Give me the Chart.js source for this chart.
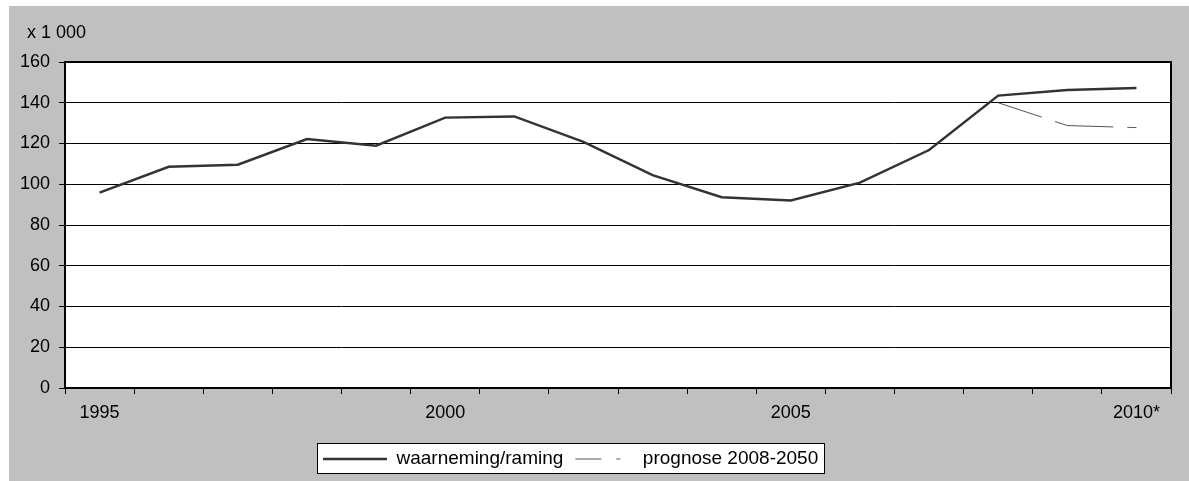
<!DOCTYPE html>
<html>
<head>
<meta charset="utf-8">
<script src="https://cdn.jsdelivr.net/npm/chart.js@4.4.1/dist/chart.umd.min.js"></script>
<style>
  html, body { margin: 0; padding: 0; background: #fff; }
  #wrap { position: absolute; left: 9px; top: 6px; width: 1180px; height: 475px; background: #c0c0c0; }
</style>
</head>
<body>
<div id="wrap"><canvas id="line-chart"></canvas></div>
<script>
const years = ['1995', '1996', '1997', '1998', '1999', '2000', '2001', '2002',
  '2003', '2004', '2005', '2006', '2007', '2008', '2009', '2010*'];
const observed = [95.9, 108.6, 109.6, 122.2, 118.9, 132.7, 133.3, 120.8,
  104.5, 93.6, 92.0, 100.8, 116.8, 143.5, 146.3, 147.3];
const forecast = [null, null, null, null, null, null, null, null,
  null, null, null, null, null, 140.0, 128.8, 127.8];
const yTicks = [0, 20, 40, 60, 80, 100, 120, 140, 160];
const labelledYears = ['1995', '2000', '2005', '2010*'];

const FONT = { family: "'Liberation Sans', Arial, sans-serif", size: 18, weight: 'normal' };
const LEGEND_FONT = { family: "'Liberation Sans', Arial, sans-serif", size: 19, weight: 'normal' };
const LEGEND_PAD = 6;

// white plot area, black frame, boxed legend
const plotFrame = {
  id: 'plotFrame',
  afterLayout(chart) {
    const t = chart.titleBlock;
    t.left += 18;
    t.right += 18;
    const lg = chart.legend;
    const rowStart = (lg.left + LEGEND_PAD + lg.right - lg.lineWidths[0]) / 2;
    const dx = 314 - rowStart;
    lg.left += dx;
    lg.right += dx;
    const dy = (453 - LEGEND_FONT.size / 2 - LEGEND_PAD) - lg.top;
    lg.top += dy;
    lg.bottom += dy;
  },
  beforeDraw(chart) {
    const { ctx, chartArea: a } = chart;
    const lg = chart.legend;
    ctx.save();
    ctx.fillStyle = '#fff';
    ctx.fillRect(a.left, a.top, a.width, a.height);
    const rowStart = (lg.left + LEGEND_PAD + lg.right - lg.lineWidths[0]) / 2;
    const rowEnd = rowStart + lg.lineWidths[0] - LEGEND_PAD;
    const bx = Math.round(rowStart - 6);
    const bw = Math.round(rowEnd - rowStart + 12);
    ctx.fillRect(bx, 437, bw, 30);
    ctx.strokeStyle = '#000';
    ctx.lineWidth = 1;
    ctx.strokeRect(bx + 0.5, 437.5, bw, 30);
    ctx.restore();
  },
  afterDatasetsDraw(chart) {
    const { ctx, chartArea: a } = chart;
    ctx.save();
    ctx.strokeStyle = '#000';
    ctx.lineWidth = 2;
    ctx.strokeRect(a.left, a.top, a.width, a.height);
    ctx.restore();
  }
};

const ctx = document.getElementById('line-chart').getContext('2d');

new Chart(ctx, {
  type: 'line',
  data: {
    labels: years,
    datasets: [
      {
        label: 'waarneming/raming',
        data: observed,
        borderColor: '#333333',
        backgroundColor: '#333333',
        borderWidth: 2.5,
        pointRadius: 0,
        tension: 0,
      },
      {
        label: 'prognose 2008-2050',
        data: forecast,
        borderColor: '#555555',
        backgroundColor: '#555555',
        borderWidth: 1,
        borderDash: [46, 14],
        pointRadius: 0,
        tension: 0,
        // restart the dash on every segment
        segment: {
          borderDashOffset: (c) => c.p0DataIndex * 0.001,
        },
      },
    ],
  },
  options: {
    responsive: true,
    maintainAspectRatio: false,
    animation: false,
    layout: { padding: { left: 0, right: 18, top: 0, bottom: 0 } },
    plugins: {
      title: {
        display: true,
        text: 'x 1 000',
        align: 'start',
        color: '#000',
        font: FONT,
        padding: { top: 16, bottom: 18.4 },
      },
      legend: {
        position: 'bottom',
        labels: {
          usePointStyle: true,
          pointStyle: 'line',
          pointStyleWidth: 64,
          padding: LEGEND_PAD,
          color: '#000',
          font: LEGEND_FONT,
          generateLabels(chart) {
            const items = Chart.defaults.plugins.legend.labels.generateLabels(chart);
            items[1].lineDash = [26, 15, 4, 19];
            items[1].lineDashOffset = 58;
            return items;
          },
        },
      },
      tooltip: { enabled: false },
    },
    scales: {
      x: {
        offset: true,
        grid: {
          offset: true,
          drawOnChartArea: false,
          drawTicks: true,
          tickLength: 6,
          color: '#000',
        },
        border: { display: false },
        ticks: {
          autoSkip: false,
          maxRotation: 0,
          color: '#000',
          padding: 8,
          font: FONT,
          callback: function (value, index) {
            return labelledYears.includes(years[index]) ? years[index] : '';
          },
        },
        afterFit(scale) { scale.height = 58; },
      },
      y: {
        min: 0,
        max: 160,
        afterBuildTicks(scale) {
          scale.ticks = yTicks.map((v) => ({ value: v }));
        },
        grid: { color: '#000', lineWidth: 1, tickLength: 6 },
        border: { display: false },
        ticks: { color: '#000', padding: 9, font: FONT },
        afterFit(scale) { scale.width = 56; },
      },
    },
  },
  plugins: [plotFrame],
});
</script>
</body>
</html>
